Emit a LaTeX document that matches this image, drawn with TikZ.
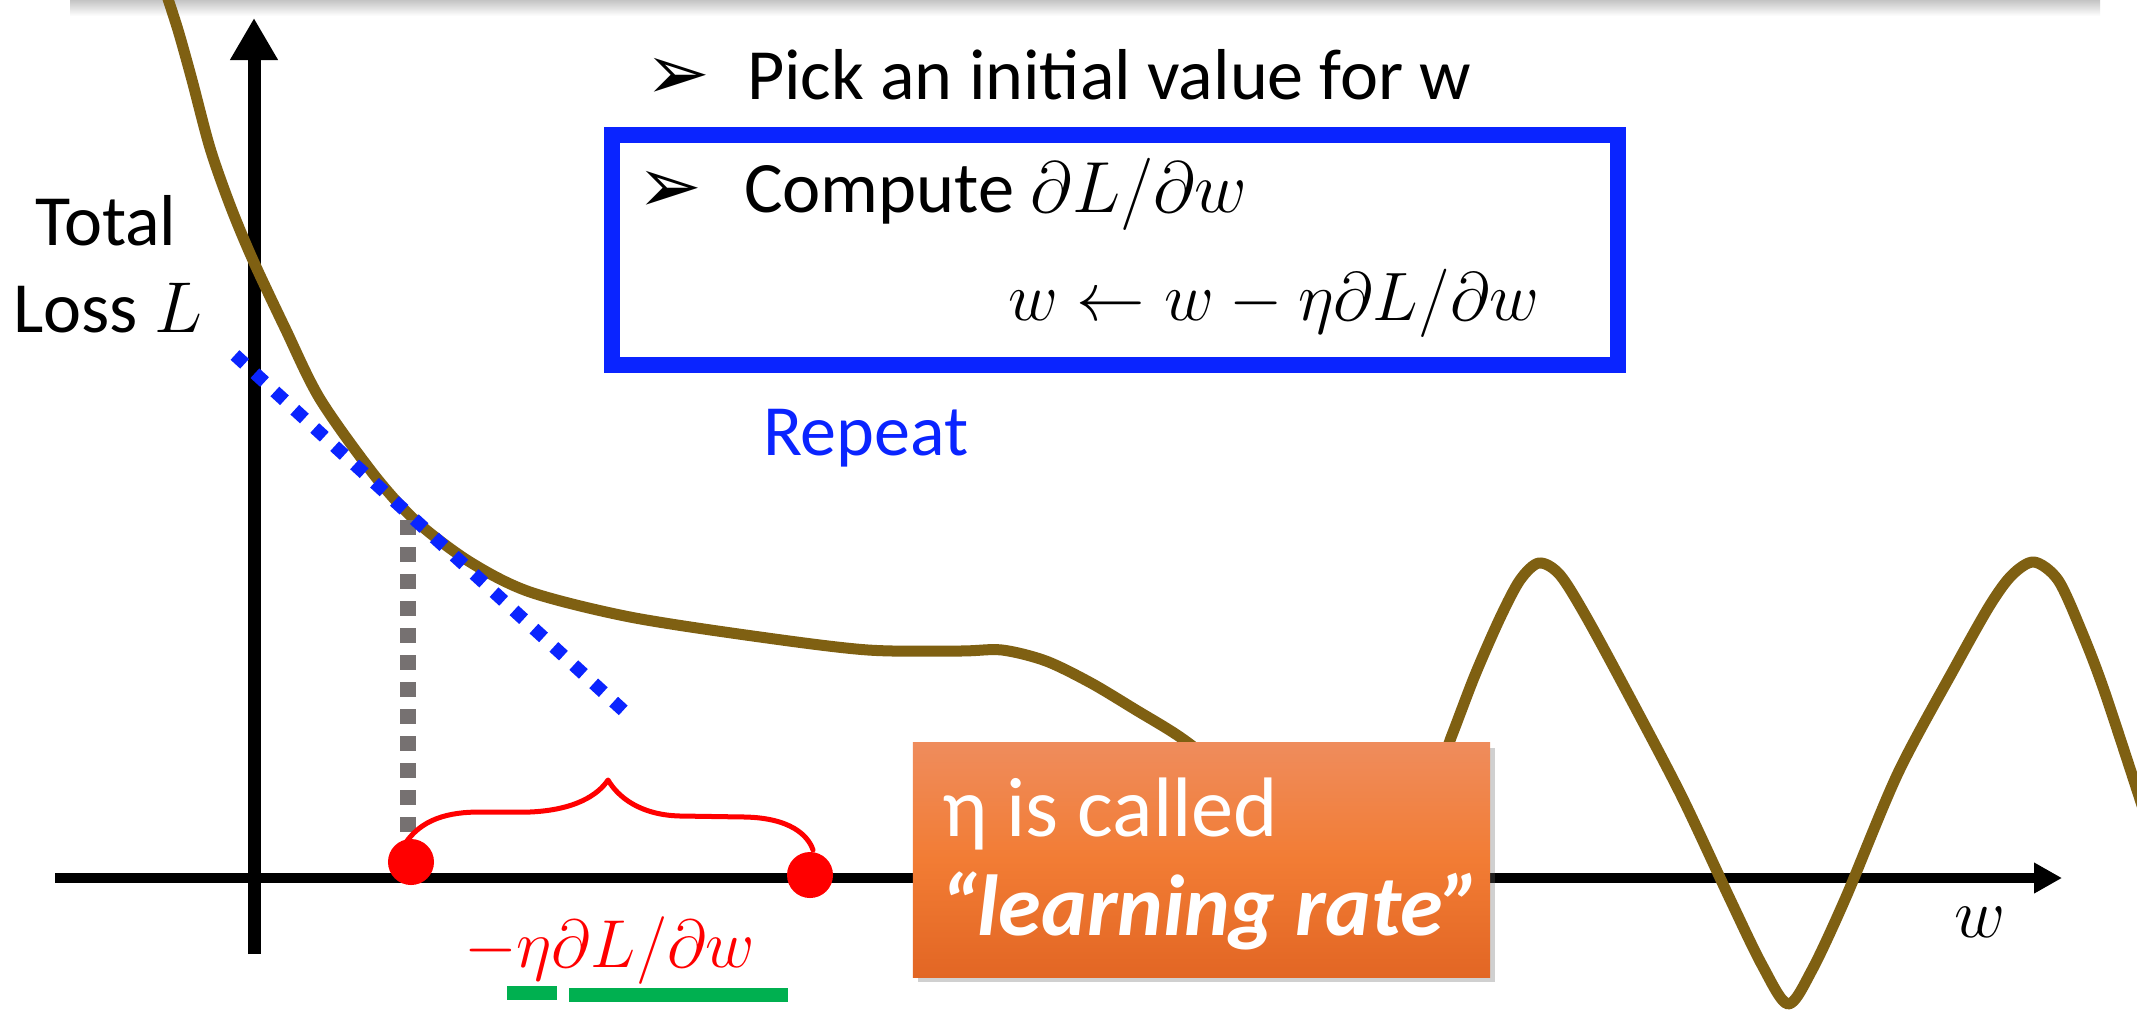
\RequirePackage{fix-cm}
\documentclass[tikz,border=0pt]{standalone}
\usepackage{fontspec}
\setmainfont{Carlito}
\newfontfamily\dejavu{DejaVu Sans}
\usetikzlibrary{arrows.meta,shadows}
\definecolor{curvebrown}{RGB}{127,96,18}
\definecolor{myblue}{RGB}{10,36,255}
\definecolor{myred}{RGB}{255,0,0}
\definecolor{mygreen}{RGB}{0,176,80}
\definecolor{mygrey}{RGB}{118,113,113}
\definecolor{orTop}{RGB}{239,140,92}
\definecolor{orMid}{RGB}{242,124,52}
\definecolor{orBot}{RGB}{226,102,36}
\definecolor{shadowgrey}{RGB}{196,196,196}
\begin{document}
\begin{tikzpicture}[x=0.01cm,y=-0.01cm,
  txt/.style={inner sep=0pt, outer sep=0pt, anchor=base west, font=\fontsize{20.5}{24}\selectfont},
  mathtxt/.style={inner sep=0pt, outer sep=0pt, anchor=base west, font=\fontsize{19.5}{24}\selectfont},
  bullet/.style={inner sep=0pt, outer sep=0pt, anchor=base west, font=\dejavu\fontsize{22}{24}\selectfont},
  boxtxt/.style={inner sep=0pt, outer sep=0pt, anchor=base west, text=white, font=\fontsize{24}{28}\selectfont},
  axis/.style={black, line width=#1},
  lossline/.style={curvebrown, line width=0.11cm, line join=round, line cap=round},
  tangent/.style={myblue, line width=0.13cm, dash pattern=on 0.13cm off 0.14cm},
  drop/.style={mygrey, line width=0.16cm, dash pattern=on 0.15cm off 0.12cm},
  reddot/.style={circle, fill=myred, minimum size=0.46cm, inner sep=0pt},
  greenbar/.style={fill=mygreen, inner sep=0pt, minimum height=0.145cm},
  algobox/.style={draw=myblue, line width=0.16cm, minimum width=10.06cm, minimum height=2.30cm, inner sep=0pt},
  orangebox/.style={minimum width=5.77cm, minimum height=2.34cm, inner sep=0pt,
     top color=orTop, bottom color=orBot, middle color=orMid,
     drop shadow={shadow xshift=0.05cm, shadow yshift=-0.05cm, opacity=0.3, fill=black!60}}
]
\useasboundingbox (0,0) rectangle (2137,1015);
\fill[white] (0,0) rectangle (2137,1015);
% shadow of the box above
\shade[top color=shadowgrey, bottom color=white] (70,0) rectangle (2100,16);

% axes
\coordinate (xs) at (55,878);
\coordinate (xe) at (2062,878);
\coordinate (ys) at (254,954);
\coordinate (ye) at (254,18);
\draw[axis=0.10cm, -{Triangle[length=0.28cm,width=0.29cm]}] (xs) -- (xe);
\draw[axis=0.13cm, -{Triangle[length=0.42cm,width=0.45cm]}] (ys) -- (ye);

% loss curve
\begin{scope}
\clip (0,0) rectangle (2137,1015);
\draw[lossline] plot[smooth, tension=0.5] coordinates {
 (165,-10) (178,30) (192,80) (210,148) (230,205) (252,258) (285,328) (320,399)
 (375,476) (417,522) (470,562) (530,592) (630,617) (760,637) (868,650) (960,651)
 (1002,650) (1046,661) (1091,683) (1136,710) (1180,737) (1230,775) (1300,830)
 (1380,840) (1430,790) (1452,735) (1475,675) (1500,618) (1520,580) (1539,563)
 (1560,575) (1588,620) (1635,707) (1682,797) (1729,897) (1762,965) (1788,1004)
 (1812,970) (1846,897) (1898,773) (1955,667) (1990,605) (2012,575) (2034,562)
 (2058,580) (2081,630) (2105,693) (2150,830)};
\end{scope}

% vertical drop line and tangent
\coordinate (d1) at (408,520);
\coordinate (d2) at (408,848);
\draw[drop] (d1) -- (d2);
\coordinate (t1) at (235,355);
\coordinate (t2) at (625,712);
\draw[tangent] (t1) -- (t2);

% brace and points
\coordinate (bs) at (403,847);
\coordinate (bt) at (608,780);
\coordinate (be) at (813,850);
\draw[myred, line width=0.05cm, line cap=round, line join=round]
  (bs) .. controls (420,818) and (450,812) .. (480,812) -- (530,812)
  .. controls (575,810) and (598,795) .. (bt)
  .. controls (618,797) and (640,815) .. (680,816) -- (745,817)
  .. controls (790,818) and (808,835) .. (be);
\node[reddot] (p1) at (411,862) {};
\node[reddot] (p2) at (810,875) {};

% red step label and green underlines
\node[mathtxt, text=myred, font=\fontsize{19.3}{22}\selectfont] (step) at (464,967) {$-\eta\partial L/\partial w$};
\node[greenbar, minimum width=0.50cm] (g1) at (532,993) {};
\node[greenbar, minimum width=2.19cm] (g2) at (678.5,995) {};

% axis labels
\node[txt, anchor=base] (tot) at (106,245) {Total};
\node[txt, anchor=base] (loss) at (108,332) {Loss $L$};
\node[inner sep=0pt, anchor=base, font=\fontsize{20}{24}\selectfont] (wl) at (1980,937) {$w$};

% algorithm text
\node[bullet] (b1) at (645,99) {➢};
\node[txt] (pick) at (747,99) {Pick an initial value for w};
\node[algobox] (bb) at (1115,250) {};
\node[bullet] (b2) at (637,212) {➢};
\node[txt, font=\fontsize{20.6}{24}\selectfont] (comp) at (744,212) {Compute $\partial L/\partial w$};
\node[mathtxt] (upd) at (1008,320) {$w \leftarrow w - \eta\partial L/\partial w$};
\node[txt, text=myblue] (rep) at (763,455) {Repeat};

% learning-rate box
\node[orangebox] (ob) at (1201.5,860) {};
\node[boxtxt] (eta) at (942,836) {η is called};
\node[boxtxt, font=\fontsize{24.6}{28}\selectfont] (lr) at (940,935) {\textbf{\textit{“learning rate”}}};
\end{tikzpicture}
\end{document}
